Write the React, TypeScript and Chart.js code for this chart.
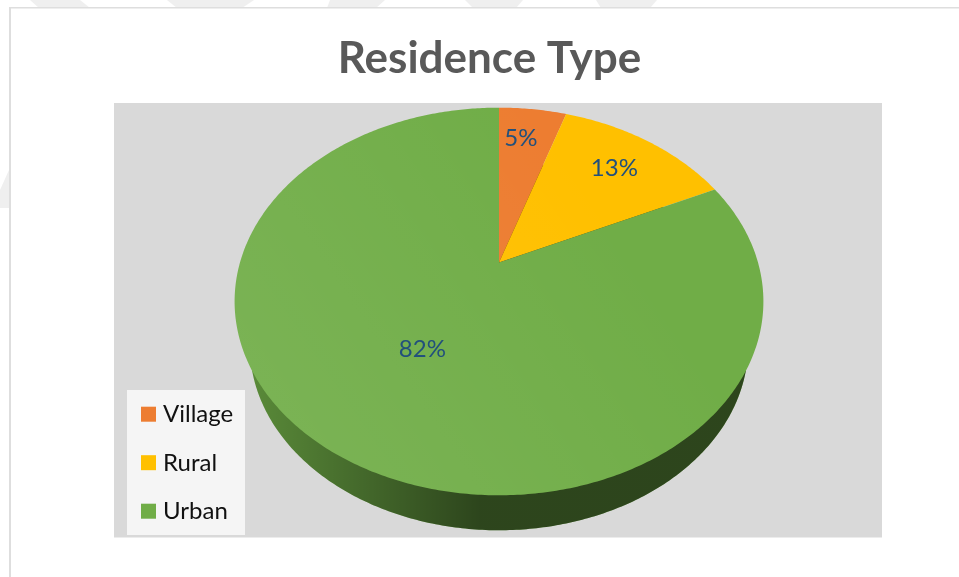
import React, { useEffect, useRef } from "react";
import { Chart, registerables } from "chart.js";

Chart.register(...registerables);

const categories = ["Village", "Rural", "Urban"];
const shares = [5, 13, 82];
const sliceColors = ["#ed7d31", "#ffc000", "#70ad47"];
const labelDepths = [0.78, 0.75, 0.505];
const labelSweeps = [0.4, 0.5, 0.5];
const chartTitle = "Residence Type";

const FONT = "Lato, Carlito, 'Open Sans', sans-serif";

// Perspective projection of a unit disc on to the page.
type Disc = { x0: number; y0: number; a: number; b: number; tilt: number };
const upperDisc: Disc = { x0: 499, y0: 262.5, a: 259, b: 186, tilt: 0.201 };
const lowerDisc: Disc = { x0: 499, y0: 309, a: 244, b: 176.8, tilt: 0.201 };

function project(d: Disc, angle: number, radius = 1): [number, number] {
  const u = Math.cos(angle) * radius;
  const v = -Math.sin(angle) * radius;
  const w = 1 + d.tilt * v;
  return [d.x0 + (d.a * u) / w, d.y0 - (d.b * v) / w];
}

function wedge(ctx: CanvasRenderingContext2D, d: Disc, start: number, end: number) {
  ctx.beginPath();
  ctx.moveTo(d.x0, d.y0);
  const steps = Math.max(4, Math.ceil((end - start) * 90));
  for (let i = 0; i <= steps; i++) {
    const [x, y] = project(d, start + ((end - start) * i) / steps);
    ctx.lineTo(x, y);
  }
  ctx.closePath();
}

const backdrop = {
  id: "backdrop",
  beforeDraw(chart: Chart) {
    const { ctx } = chart;
    ctx.save();
    ctx.fillStyle = "#ffffff";
    ctx.fillRect(0, 0, 959, 577);

    // Pale page stripes behind the chart frame.
    ctx.fillStyle = "#efefef";
    const stripes = [
      [30, 80, 39, 90],
      [167, 254, 177, 242],
      [330, 385, 327, 376],
      [465, 523, 473, 516],
      [596, 657, 601, 650],
    ];
    for (const [a, b, c, d] of stripes) {
      ctx.beginPath();
      ctx.moveTo(a, 0);
      ctx.lineTo(b, 0);
      ctx.lineTo(d, 8);
      ctx.lineTo(c, 8);
      ctx.closePath();
      ctx.fill();
    }
    ctx.beginPath();
    ctx.moveTo(9, 170);
    ctx.lineTo(9, 208);
    ctx.lineTo(0, 208);
    ctx.lineTo(0, 190);
    ctx.closePath();
    ctx.fill();

    // Chart frame, open on the right and at the bottom.
    ctx.fillStyle = "#dedede";
    ctx.fillRect(9, 7, 950, 1.5);
    ctx.fillRect(9, 7, 2, 570);

    // Plot area.
    ctx.fillStyle = "#d9d9d9";
    ctx.fillRect(114, 103, 768, 434.5);
    ctx.restore();
  },
};

const tiltedPie = {
  id: "tiltedPie",
  beforeDatasetsDraw(chart: Chart) {
    const { ctx } = chart;
    const arcs = chart.getDatasetMeta(0).data as any[];
    const values = chart.data.datasets[0].data as number[];
    const colors = chart.data.datasets[0].backgroundColor as string[];
    ctx.save();

    // Side wall of the disc: the lower disc, shaded darker towards the right.
    const wallShade = ctx.createLinearGradient(250, 0, 480, 0);
    wallShade.addColorStop(0, "rgba(0,0,0,0.2)");
    wallShade.addColorStop(1, "rgba(0,0,0,0.6)");
    arcs.forEach((arc, i) => {
      const { startAngle, endAngle } = arc.getProps(["startAngle", "endAngle"], true);
      wedge(ctx, lowerDisc, startAngle, endAngle);
      ctx.fillStyle = colors[i];
      ctx.fill();
      ctx.fillStyle = wallShade;
      ctx.fill();
    });

    // Top face, with a faint light from the lower left.
    const sheen = ctx.createLinearGradient(270, 470, 620, 230);
    sheen.addColorStop(0, "rgba(255,255,255,0.08)");
    sheen.addColorStop(1, "rgba(255,255,255,0)");
    arcs.forEach((arc, i) => {
      const { startAngle, endAngle } = arc.getProps(["startAngle", "endAngle"], true);
      wedge(ctx, upperDisc, startAngle, endAngle);
      ctx.fillStyle = colors[i];
      ctx.fill();
      ctx.fillStyle = sheen;
      ctx.fill();
    });

    // Percentage labels.
    ctx.fillStyle = "#22507c";
    ctx.font = `24px ${FONT}`;
    ctx.textAlign = "center";
    ctx.textBaseline = "middle";
    arcs.forEach((arc, i) => {
      const { startAngle, endAngle } = arc.getProps(["startAngle", "endAngle"], true);
      const at = startAngle + (endAngle - startAngle) * labelSweeps[i];
      const [x, y] = project(upperDisc, at, labelDepths[i]);
      ctx.fillText(`${values[i]}%`, x, y);
    });

    // Legend panel inside the plot area.
    ctx.fillStyle = "#f5f5f5";
    ctx.fillRect(127, 390, 118, 145);
    ctx.textAlign = "left";
    (chart.data.labels as string[]).forEach((name, i) => {
      const top = 406.7 + i * 48.5;
      ctx.fillStyle = colors[i];
      ctx.fillRect(141, top, 15, 15);
      ctx.fillStyle = "#111111";
      ctx.fillText(name, 163, top + 8);
    });

    ctx.restore();
    return false;
  },
};

export default function App() {
  const ref = useRef<HTMLCanvasElement | null>(null);

  useEffect(() => {
    if (!ref.current) return;
    const chart = new Chart(ref.current, {
      type: "pie",
      data: {
        labels: categories,
        datasets: [{ data: shares, backgroundColor: sliceColors, borderWidth: 0 }],
      },
      options: {
        animation: false,
        responsive: false,
        layout: { padding: { left: 20, top: 32 } },
        plugins: {
          legend: { display: false },
          tooltip: { enabled: false },
          title: {
            display: true,
            text: chartTitle,
            color: "#595959",
            font: { family: FONT, size: 44, weight: "bold" },
            padding: 0,
          },
        },
      },
      plugins: [backdrop, tiltedPie],
    } as any);
    return () => chart.destroy();
  }, []);

  return (
    <div style={{ position: "absolute", left: 0, top: 0, width: 959, height: 577 }}>
      <canvas ref={ref} width={959} height={577} style={{ display: "block" }} />
    </div>
  );
}
